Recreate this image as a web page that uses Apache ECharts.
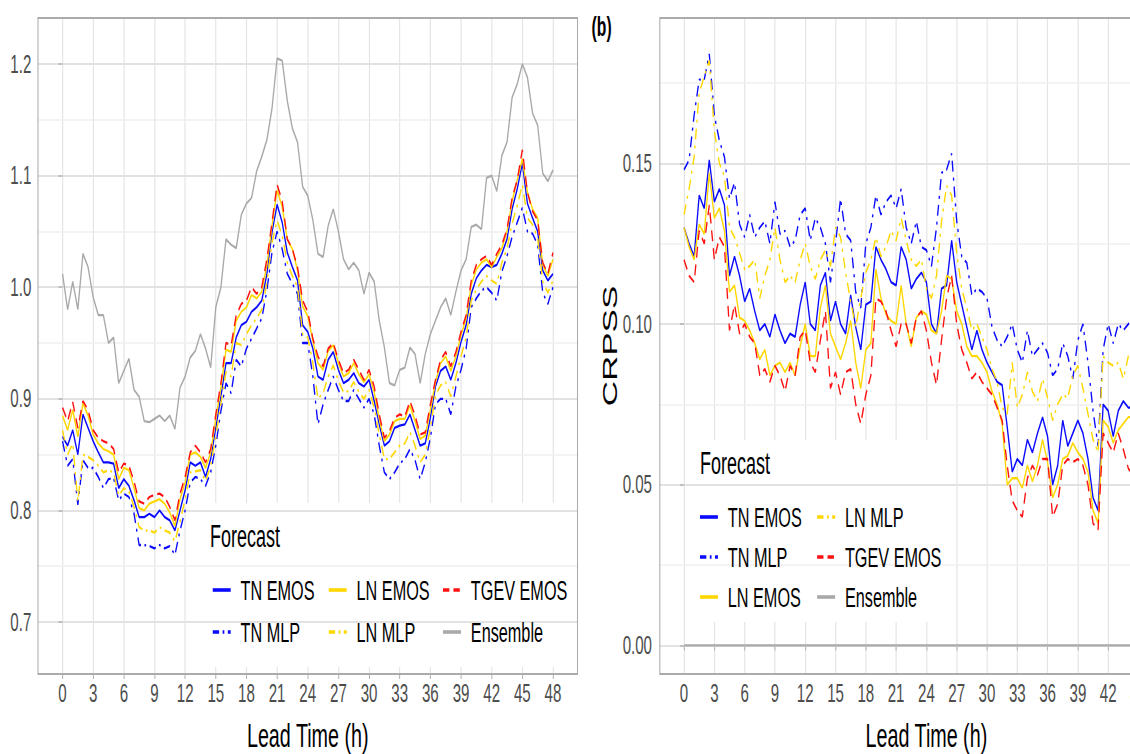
<!DOCTYPE html>
<html><head><meta charset="utf-8">
<script src="https://cdn.jsdelivr.net/npm/echarts@6/dist/echarts.min.js"></script>
<style>
html,body{margin:0;padding:0;overflow:hidden;background:#fff}
#wrap{width:1130px;height:754px;overflow:hidden;position:relative;background:#fff}
#main{width:2064px;height:754px;transform:scaleX(0.58);transform-origin:0 0;position:absolute;left:0;top:0}
</style></head>
<body><div id="wrap"><div id="main"></div></div>
<script>
// ---------- data ----------
const leadTimes = [0,0.5,1,1.5,2,2.5,3,3.5,4,4.5,5,5.5,6,6.5,7,7.5,8,8.5,9,9.5,10,10.5,11,11.5,12,12.5,13,13.5,14,14.5,15,15.5,16,16.5,17,17.5,18,18.5,19,19.5,20,20.5,21,21.5,22,22.5,23,23.5,24,24.5,25,25.5,26,26.5,27,27.5,28,28.5,29,29.5,30,30.5,31,31.5,32,32.5,33,33.5,34,34.5,35,35.5,36,36.5,37,37.5,38,38.5,39,39.5,40,40.5,41,41.5,42,42.5,43,43.5,44,44.5,45,45.5,46,46.5,47,47.5,48];
const xTicks = [0,3,6,9,12,15,18,21,24,27,30,33,36,39,42,45,48];
const crpsTicks = [0.7,0.8,0.9,1.0,1.1,1.2];
const crpsMinorTicks = [0.75,0.85,0.95,1.05,1.15];
const skillTicks = [0,0.05,0.10,0.15];
const skillMinorTicks = [0.025,0.075,0.125,0.175];

// panel (a): CRPS
const crpsTnEmos = [0.866,0.858,0.872,0.85,0.886,0.874,0.862,0.852,0.843,0.843,
 0.842,0.82,0.828,0.822,0.809,0.794,0.794,0.797,0.794,0.80,
 0.794,0.791,0.782,0.80,0.818,0.843,0.84,0.843,0.83,0.846,
 0.874,0.902,0.932,0.932,0.955,0.966,0.969,0.978,0.982,0.988,
 1.012,1.049,1.074,1.058,1.031,1.018,1.006,0.966,0.96,0.945,
 0.92,0.917,0.935,0.942,0.926,0.914,0.917,0.923,0.914,0.911,
 0.917,0.898,0.877,0.858,0.862,0.874,0.876,0.877,0.886,0.872,
 0.858,0.86,0.883,0.911,0.925,0.929,0.917,0.932,0.951,0.966,
 0.994,1.008,1.015,1.02,1.018,1.02,1.03,1.043,1.07,1.088,
 1.111,1.075,1.062,1.05,1.015,1.006,1.012];
const crpsTnMlp = [0.862,0.84,0.846,0.805,0.845,0.838,0.838,0.83,0.82,0.828,
 0.829,0.809,0.815,0.812,0.797,0.769,0.769,0.768,0.766,0.769,
 0.766,0.768,0.76,0.782,0.80,0.825,0.83,0.828,0.822,0.834,
 0.858,0.889,0.914,0.905,0.935,0.929,0.945,0.954,0.963,0.972,
 0.997,1.031,1.05,1.034,1.012,1.003,0.994,0.95,0.95,0.92,
 0.877,0.895,0.908,0.92,0.908,0.898,0.898,0.908,0.90,0.892,
 0.90,0.886,0.858,0.834,0.828,0.834,0.842,0.846,0.855,0.845,
 0.828,0.843,0.865,0.895,0.90,0.90,0.886,0.911,0.926,0.945,
 0.982,0.99,0.997,1.0,0.995,0.988,1.014,1.028,1.045,1.058,
 1.071,1.05,1.048,1.038,0.995,0.985,1.0];
const crpsLnEmos = [0.885,0.872,0.89,0.866,0.896,0.885,0.868,0.86,0.855,0.853,
 0.85,0.828,0.838,0.836,0.82,0.802,0.80,0.806,0.808,0.81,
 0.806,0.798,0.786,0.81,0.825,0.85,0.852,0.848,0.838,0.852,
 0.882,0.91,0.944,0.942,0.97,0.978,0.982,0.993,0.99,0.996,
 1.02,1.055,1.087,1.072,1.043,1.034,1.015,0.983,0.974,0.952,
 0.932,0.926,0.943,0.948,0.932,0.92,0.923,0.932,0.922,0.915,
 0.922,0.906,0.882,0.862,0.868,0.88,0.882,0.882,0.894,0.88,
 0.864,0.867,0.89,0.915,0.932,0.938,0.925,0.938,0.957,0.972,
 1.002,1.016,1.022,1.025,1.018,1.027,1.035,1.05,1.077,1.096,
 1.115,1.085,1.07,1.062,1.02,1.01,1.025];
const crpsLnMlp = [0.872,0.85,0.86,0.808,0.85,0.848,0.845,0.84,0.834,0.836,
 0.834,0.813,0.82,0.817,0.803,0.785,0.782,0.782,0.78,0.785,
 0.782,0.78,0.772,0.79,0.81,0.834,0.835,0.836,0.826,0.84,
 0.866,0.896,0.924,0.92,0.95,0.948,0.958,0.966,0.972,0.98,
 1.004,1.04,1.06,1.046,1.022,1.01,1.0,0.958,0.955,0.932,
 0.9,0.905,0.92,0.93,0.916,0.906,0.907,0.915,0.906,0.90,
 0.908,0.892,0.868,0.846,0.846,0.852,0.858,0.86,0.87,0.858,
 0.843,0.85,0.874,0.903,0.912,0.915,0.902,0.92,0.938,0.955,
 0.988,0.998,1.005,1.01,1.006,1.003,1.022,1.035,1.057,1.073,
 1.092,1.062,1.056,1.044,1.005,0.995,1.006];
const crpsTgevEmos = [0.892,0.88,0.897,0.874,0.898,0.89,0.872,0.865,0.862,0.86,
 0.855,0.834,0.842,0.84,0.826,0.808,0.806,0.812,0.814,0.815,
 0.812,0.803,0.791,0.815,0.83,0.852,0.858,0.852,0.843,0.855,
 0.886,0.914,0.95,0.948,0.975,0.985,0.988,1.0,0.994,1.0,
 1.025,1.058,1.092,1.077,1.043,1.034,1.018,0.988,0.978,0.954,
 0.938,0.929,0.945,0.95,0.935,0.923,0.926,0.935,0.926,0.917,
 0.926,0.911,0.886,0.865,0.871,0.883,0.886,0.884,0.898,0.885,
 0.868,0.87,0.895,0.917,0.935,0.942,0.929,0.942,0.96,0.975,
 1.006,1.02,1.025,1.028,1.02,1.03,1.038,1.052,1.08,1.096,
 1.123,1.085,1.068,1.06,1.022,1.012,1.031];
const crpsEnsemble = [1.012,0.98,1.005,0.98,1.03,1.018,0.991,0.975,0.975,0.95,
 0.955,0.914,0.925,0.936,0.908,0.902,0.88,0.879,0.882,0.885,
 0.88,0.885,0.873,0.91,0.92,0.937,0.943,0.958,0.945,0.928,
 0.982,1.0,1.043,1.038,1.035,1.065,1.075,1.08,1.104,1.117,
 1.132,1.16,1.205,1.203,1.167,1.142,1.13,1.09,1.082,1.06,
 1.03,1.027,1.055,1.07,1.05,1.025,1.016,1.022,1.015,0.994,
 1.013,1.005,0.97,0.946,0.914,0.912,0.926,0.928,0.946,0.94,
 0.914,0.94,0.958,0.97,0.982,0.99,0.975,0.996,1.015,1.025,
 1.054,1.056,1.052,1.098,1.1,1.086,1.118,1.13,1.17,1.182,
 1.2,1.188,1.156,1.145,1.102,1.095,1.105];

// panel (b): CRPSS (visible part, 0 - 44.5 h)
const skillTnEmos = [0.13,0.125,0.121,0.14,0.136,0.151,0.138,0.142,0.137,0.115,
 0.121,0.115,0.107,0.111,0.104,0.098,0.1,0.096,0.103,0.098,
 0.094,0.097,0.096,0.106,0.113,0.1,0.098,0.112,0.116,0.101,
 0.107,0.1,0.097,0.109,0.099,0.092,0.106,0.107,0.124,0.12,
 0.117,0.113,0.112,0.124,0.12,0.111,0.114,0.116,0.113,0.1,
 0.097,0.111,0.112,0.126,0.113,0.106,0.099,0.092,0.098,0.092,
 0.088,0.085,0.082,0.081,0.068,0.054,0.058,0.056,0.064,0.06,
 0.066,0.071,0.065,0.05,0.056,0.07,0.062,0.066,0.07,0.066,
 0.058,0.046,0.042,0.075,0.073,0.065,0.073,0.076,0.074,0.074];
const skillTnMlp = [0.148,0.151,0.165,0.176,0.176,0.184,0.165,0.157,0.152,0.139,
 0.144,0.131,0.127,0.134,0.127,0.13,0.132,0.125,0.138,0.128,
 0.129,0.124,0.126,0.134,0.136,0.126,0.133,0.13,0.125,0.113,
 0.125,0.139,0.128,0.126,0.11,0.105,0.125,0.13,0.14,0.134,
 0.138,0.14,0.136,0.142,0.13,0.125,0.132,0.124,0.123,0.118,
 0.13,0.147,0.148,0.153,0.132,0.121,0.119,0.109,0.111,0.11,
 0.108,0.099,0.095,0.093,0.096,0.1,0.092,0.088,0.098,0.09,
 0.092,0.094,0.091,0.084,0.086,0.094,0.09,0.083,0.095,0.1,
 0.088,0.073,0.062,0.092,0.1,0.094,0.1,0.098,0.1,0.102];
const skillLnEmos = [0.13,0.124,0.12,0.131,0.128,0.147,0.133,0.136,0.129,0.11,
 0.112,0.102,0.101,0.098,0.094,0.089,0.092,0.084,0.087,0.088,
 0.085,0.088,0.084,0.093,0.1,0.09,0.09,0.105,0.112,0.097,
 0.093,0.089,0.094,0.101,0.088,0.08,0.092,0.094,0.117,0.108,
 0.103,0.101,0.1,0.112,0.1,0.093,0.102,0.104,0.103,0.098,
 0.097,0.104,0.115,0.114,0.104,0.1,0.093,0.09,0.09,0.088,
 0.085,0.079,0.075,0.069,0.05,0.052,0.052,0.049,0.056,0.051,
 0.056,0.064,0.057,0.046,0.05,0.058,0.059,0.063,0.06,0.058,
 0.054,0.042,0.038,0.07,0.068,0.063,0.067,0.069,0.071,0.071];
const skillLnMlp = [0.134,0.142,0.152,0.172,0.177,0.182,0.16,0.15,0.146,0.13,
 0.127,0.122,0.117,0.118,0.12,0.108,0.115,0.12,0.13,0.12,
 0.113,0.115,0.113,0.12,0.125,0.118,0.114,0.12,0.123,0.118,
 0.13,0.127,0.116,0.107,0.099,0.108,0.116,0.12,0.127,0.121,
 0.124,0.129,0.126,0.133,0.126,0.12,0.118,0.12,0.111,0.108,
 0.115,0.132,0.143,0.14,0.122,0.111,0.105,0.098,0.1,0.096,
 0.092,0.086,0.082,0.074,0.072,0.088,0.074,0.078,0.085,0.079,
 0.076,0.083,0.077,0.07,0.075,0.078,0.077,0.084,0.087,0.08,
 0.072,0.064,0.06,0.09,0.088,0.087,0.088,0.083,0.09,0.092];
const skillTgevEmos = [0.12,0.115,0.113,0.129,0.125,0.137,0.12,0.127,0.124,0.098,
 0.106,0.097,0.1,0.096,0.094,0.084,0.086,0.082,0.087,0.084,
 0.079,0.087,0.084,0.096,0.098,0.088,0.085,0.095,0.104,0.08,
 0.085,0.078,0.085,0.086,0.075,0.069,0.078,0.084,0.108,0.107,
 0.104,0.098,0.093,0.1,0.1,0.094,0.102,0.104,0.098,0.088,
 0.081,0.095,0.108,0.115,0.1,0.092,0.088,0.083,0.085,0.082,
 0.08,0.078,0.074,0.07,0.056,0.045,0.042,0.04,0.052,0.056,
 0.053,0.058,0.058,0.04,0.044,0.056,0.058,0.057,0.058,0.056,
 0.05,0.038,0.036,0.066,0.063,0.06,0.066,0.061,0.055,0.053];
const skillEnsembleHours = [0, 48];
const skillEnsemble = [0, 0];

// ---------- styles ----------
const FONT = 'Liberation Sans, Arial, sans-serif';
const DOTDASH = [11, 6, 3, 6];
const styles = {
  'TN EMOS':   {color: '#0a0aff', type: 'solid'},
  'TN MLP':    {color: '#0a0aff', type: DOTDASH},
  'LN EMOS':   {color: '#FFD700', type: 'solid'},
  'LN MLP':    {color: '#FFD700', type: DOTDASH},
  'TGEV EMOS': {color: '#FF1010', type: [11, 7]},
  'Ensemble':  {color: '#A9A9A9', type: 'solid'}
};
function mk(name, hours, vals, gi) {
  const s = styles[name];
  return {
    name, type: 'line', xAxisIndex: gi, yAxisIndex: gi * 2,
    data: vals.map((v, i) => [hours[i], v]),
    symbol: 'none', showSymbol: false, animation: false, silent: true,
    lineStyle: {color: s.color, width: 2.3, type: s.type},
    itemStyle: {color: s.color},
    emphasis: {disabled: true}
  };
}

const gridLine = (c, w) => ({show: true, lineStyle: {color: c, width: w}});
function xAx(gi) {
  return {
    type: 'value', gridIndex: gi, min: -2.4, max: 50.4,
    name: 'Lead Time (h)', nameLocation: 'middle', nameGap: 44,
    nameTextStyle: {fontFamily: FONT, fontSize: 34, color: '#000'},
    axisLine: {show: false},
    axisTick: {show: true, length: 5, customValues: xTicks, lineStyle: {color: '#B3B3B3', width: 1.8}},
    axisLabel: {customValues: xTicks, margin: 6, fontFamily: FONT, fontSize: 26, color: '#4D4D4D', formatter: v => String(v)},
    splitLine: gridLine('#E4E4E4', 2)
  };
}
function yAx(gi, min, max, ticks, dec, margin, extra) {
  return Object.assign({
    type: 'value', gridIndex: gi, min, max, z: 2,
    axisLine: {show: false},
    axisTick: {show: true, length: 7, customValues: ticks, lineStyle: {color: '#B3B3B3', width: 1.5}},
    axisLabel: {customValues: ticks, margin, fontFamily: FONT, fontSize: 26, color: '#4D4D4D', formatter: v => v.toFixed(dec)},
    splitLine: gridLine('#E2E2E2', 2)
  }, extra || {});
}
function yMinor(gi, min, max, ticks) {
  return {
    type: 'value', gridIndex: gi, min, max, z: 1,
    axisLine: {show: false}, axisLabel: {show: false},
    axisTick: {show: false, customValues: ticks},
    splitLine: gridLine('#EFEFEF', 1.5)
  };
}
function legendCol(left, top, gap, names) {
  return {
    orient: 'vertical', left, top, itemGap: gap, padding: 0,
    itemWidth: 31, itemHeight: 20, selectedMode: false,
    data: names,
    lineStyle: {width: 3.6},
    itemStyle: {opacity: 0, borderWidth: 0},
    textStyle: {fontFamily: FONT, fontSize: 28, color: '#000', padding: [0, 0, 0, 12]}
  };
}

const option = {
  backgroundColor: '#fff',
  animation: false,
  grid: [
    {left: 65.5, top: 18, width: 930.2, height: 656, show: true, borderColor: '#ABABAB', borderWidth: 1.8, containLabel: false, outerBoundsMode: 'none', z: 3},
    {left: 1137.6, top: 18, width: 919.3, height: 656, show: true, borderColor: '#ABABAB', borderWidth: 1.8, containLabel: false, outerBoundsMode: 'none', z: 3}
  ],
  xAxis: [xAx(0), xAx(1)],
  yAxis: [
    yAx(0, 0.6534, 1.2412, crpsTicks, 1, 11.5),
    yMinor(0, 0.6534, 1.2412, crpsMinorTicks),
    yAx(1, -0.0089, 0.1952, skillTicks, 2, 13.5, {
      name: 'CRPSS', nameLocation: 'middle', nameGap: 44, nameRotate: 90,
      nameTextStyle: {fontFamily: FONT, fontSize: 35, color: '#000'}
    }),
    yMinor(1, -0.0089, 0.1952, skillMinorTicks)
  ],
  graphic: [
    {type: 'rect', z: 1, silent: true, shape: {x: 352, y: 503, width: 641, height: 164}, style: {fill: '#fff'}},
    {type: 'rect', z: 1, silent: true, shape: {x: 1184, y: 440, width: 457, height: 182}, style: {fill: '#fff'}}
  ],
  title: [
    {text: 'Forecast', left: 362, top: 520, padding: 0, textStyle: {fontFamily: FONT, fontSize: 31, fontWeight: 'normal', color: '#000'}},
    {text: 'Forecast', left: 1207, top: 447, padding: 0, textStyle: {fontFamily: FONT, fontSize: 31, fontWeight: 'normal', color: '#000'}},
    {text: '(b)', left: 1020, top: 13, padding: 0, textStyle: {fontFamily: FONT, fontSize: 27, fontWeight: 'bold', color: '#000'}}
  ],
  legend: [
    legendCol(365, 576, 14, ['TN EMOS', 'TN MLP']),
    legendCol(565, 576, 14, ['LN EMOS', 'LN MLP']),
    legendCol(762, 576, 14, ['TGEV EMOS', 'Ensemble']),
    legendCol(1205, 503, 12, ['TN EMOS', 'TN MLP', 'LN EMOS']),
    legendCol(1407, 503, 12, ['LN MLP', 'TGEV EMOS', 'Ensemble'])
  ],
  series: [
    mk('TN EMOS', leadTimes, crpsTnEmos, 0),
    mk('TN MLP', leadTimes, crpsTnMlp, 0),
    mk('LN EMOS', leadTimes, crpsLnEmos, 0),
    mk('LN MLP', leadTimes, crpsLnMlp, 0),
    mk('TGEV EMOS', leadTimes, crpsTgevEmos, 0),
    mk('Ensemble', leadTimes, crpsEnsemble, 0),
    mk('TN EMOS', leadTimes, skillTnEmos, 1),
    mk('TN MLP', leadTimes, skillTnMlp, 1),
    mk('LN EMOS', leadTimes, skillLnEmos, 1),
    mk('LN MLP', leadTimes, skillLnMlp, 1),
    mk('TGEV EMOS', leadTimes, skillTgevEmos, 1),
    mk('Ensemble', skillEnsembleHours, skillEnsemble, 1)
  ]
};
const chart = echarts.init(document.getElementById('main'), null, {renderer: 'svg'});
chart.setOption(option);
</script>
</body></html>
